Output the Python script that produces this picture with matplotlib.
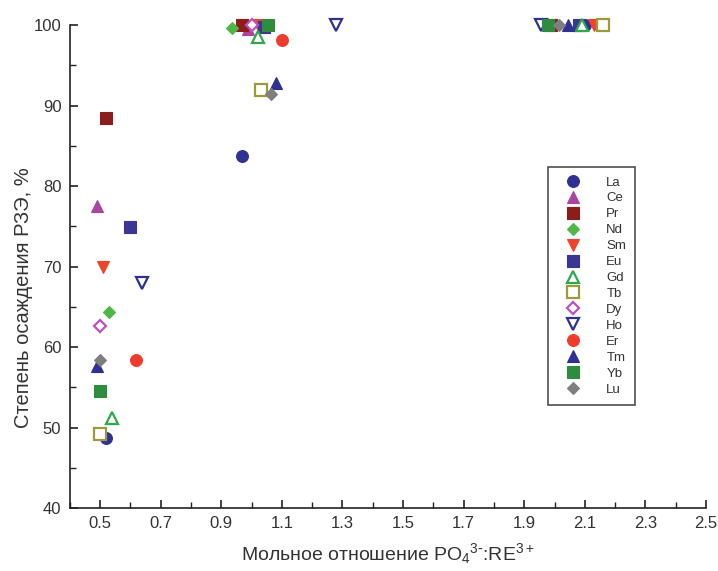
import matplotlib
matplotlib.use("Agg")
import matplotlib.pyplot as plt
from matplotlib.ticker import MultipleLocator

plt.rcParams['font.family'] = ['Liberation Sans', 'DejaVu Sans']
plt.rcParams['mathtext.default'] = 'regular'

elements = ["La", "Ce", "Pr", "Nd", "Sm", "Eu", "Gd", "Tb", "Dy", "Ho", "Er", "Tm", "Yb", "Lu"]

# x: molar ratio, y: precipitation degree (%)
x_La = [0.52, 0.97, 2.10]; y_La = [48.7, 83.8, 100.0]
x_Ce = [0.49, 0.99];       y_Ce = [77.5, 99.5]
x_Pr = [0.52, 0.97, 1.99]; y_Pr = [88.4, 100.0, 100.0]
x_Nd = [0.53, 0.935];      y_Nd = [64.3, 99.6]
x_Sm = [0.51, 1.02, 2.13]; y_Sm = [70.0, 100.0, 100.0]
x_Eu = [0.60, 1.04, 2.08]; y_Eu = [74.9, 99.8, 100.0]
x_Gd = [0.54, 1.02, 2.09]; y_Gd = [51.2, 98.5, 100.0]
x_Tb = [0.50, 1.03, 2.16]; y_Tb = [49.2, 92.0, 100.0]
x_Dy = [0.50, 1.00];       y_Dy = [62.6, 100.0]
x_Ho = [0.64, 1.28, 1.955]; y_Ho = [67.9, 100.0, 100.0]
x_Er = [0.62, 1.10];       y_Er = [58.4, 98.1]
x_Tm = [0.49, 1.08, 2.045]; y_Tm = [57.6, 92.8, 100.0]
x_Yb = [0.50, 1.055, 1.98]; y_Yb = [54.6, 100.0, 100.0]
x_Lu = [0.50, 1.065, 2.015]; y_Lu = [58.4, 91.5, 100.0]

xs = [x_La, x_Ce, x_Pr, x_Nd, x_Sm, x_Eu, x_Gd, x_Tb, x_Dy, x_Ho, x_Er, x_Tm, x_Yb, x_Lu]
ys = [y_La, y_Ce, y_Pr, y_Nd, y_Sm, y_Eu, y_Gd, y_Tb, y_Dy, y_Ho, y_Er, y_Tm, y_Yb, y_Lu]

styles = {
    "La": dict(marker="o", color="#2E3192", fill=True, ms=8.5),
    "Ce": dict(marker="^", color="#A9449F", fill=True, ms=8.5),
    "Pr": dict(marker="s", color="#8B1D1D", fill=True, ms=8.5),
    "Nd": dict(marker="D", color="#4DB848", fill=True, ms=6.5),
    "Sm": dict(marker="v", color="#F0442A", fill=True, ms=8.5),
    "Eu": dict(marker="s", color="#3B3593", fill=True, ms=8.5),
    "Gd": dict(marker="^", color="#2DA84A", fill=False, ms=8.0),
    "Tb": dict(marker="s", color="#9C9A3C", fill=False, ms=8.5),
    "Dy": dict(marker="D", color="#BF4FBF", fill=False, ms=6.0),
    "Ho": dict(marker="v", color="#2E3192", fill=False, ms=8.5),
    "Er": dict(marker="o", color="#EF3B2C", fill=True, ms=8.5),
    "Tm": dict(marker="^", color="#2E3192", fill=True, ms=8.5),
    "Yb": dict(marker="s", color="#2F8C3F", fill=True, ms=8.5),
    "Lu": dict(marker="D", color="#7F7F7F", fill=True, ms=6.5),
}

fig = plt.figure(figsize=(7.18, 5.71), dpi=100)
ax = fig.add_axes([0.0971, 0.1103, 0.8862, 0.8457])

for el, x, y in zip(elements, xs, ys):
    st = styles[el]
    ax.plot(x, y, linestyle="none", marker=st["marker"], markersize=st["ms"],
            markerfacecolor=st["color"] if st["fill"] else "white",
            markeredgecolor=st["color"], markeredgewidth=1.6 if not st["fill"] else 0.8,
            label=el, clip_on=False, zorder=3)

ax.set_xlim(0.4, 2.5)
ax.set_ylim(40, 100)
ax.set_xticks([0.5, 0.7, 0.9, 1.1, 1.3, 1.5, 1.7, 1.9, 2.1, 2.3, 2.5])
ax.xaxis.set_minor_locator(MultipleLocator(0.1))
ax.set_yticks([40, 50, 60, 70, 80, 90, 100])
ax.yaxis.set_minor_locator(MultipleLocator(5))

for s in ["top", "right"]:
    ax.spines[s].set_visible(False)
for s in ["left", "bottom"]:
    ax.spines[s].set_linewidth(1.2)
    ax.spines[s].set_color("#222222")

ax.tick_params(which="major", direction="in", length=6, width=1.2, colors="#222222",
               labelsize=12, labelcolor="#333333", pad=6)
ax.tick_params(which="minor", direction="in", length=4, width=1.0, colors="#222222")

ax.set_xlabel(r"Мольное отношение PO$_4$$^{3\text{-}}$:RE$^{3+}$", fontsize=14, color="#333333", labelpad=7)
ax.set_ylabel("Степень осаждения РЗЭ, %", fontsize=14.5, color="#333333")
ax.yaxis.set_label_coords(-0.058, 0.435)

leg = ax.legend(loc="upper left", bbox_to_anchor=(0.752, 0.706), frameon=True, fancybox=False,
                edgecolor="#222222", fontsize=9.5, labelspacing=0.28, handletextpad=1.4,
                borderpad=0.7, markerscale=1.0, handlelength=2.3, borderaxespad=0)
leg.get_frame().set_linewidth(1.2)
for t in leg.get_texts():
    t.set_color("#333333")

fig.savefig("out.png", dpi=100)
